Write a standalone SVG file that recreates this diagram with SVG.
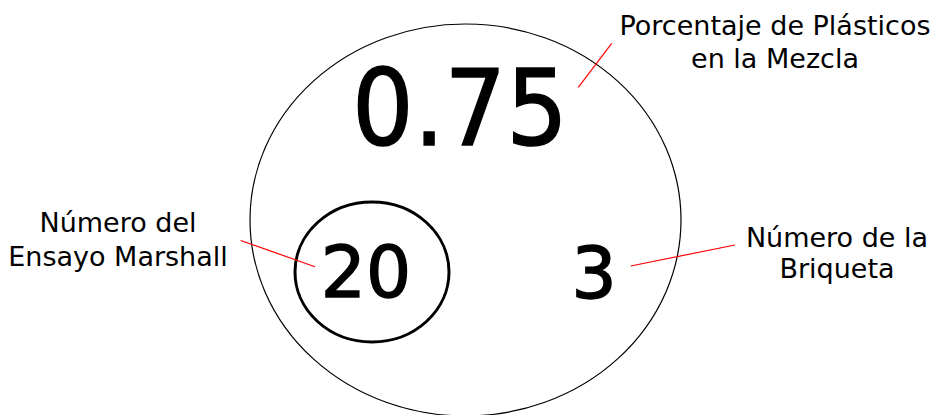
<svg xmlns="http://www.w3.org/2000/svg" width="936" height="415" viewBox="0 0 936 415">
  <style>
    .lbl { font-family: "DejaVu Sans", "Liberation Sans", sans-serif; font-size: 27px; fill: #000; text-anchor: middle; }
    .num { font-family: "DejaVu Sans", "Liberation Sans", sans-serif; fill: #000; stroke: #000; stroke-width: 1.5; text-anchor: middle; }
    .leader { stroke: #ff0000; stroke-width: 1.2; fill: none; }
  </style>
  <rect width="936" height="415" fill="#fff"/>
  <g id="outer-circle">
    <ellipse cx="465.5" cy="220" rx="215.5" ry="196" fill="none" stroke="#000" stroke-width="1.2"/>
  </g>
  <g id="porcentaje">
    <text class="num" x="460" y="145" font-size="106" textLength="216" lengthAdjust="spacingAndGlyphs">0.75</text>
  </g>
  <g id="ensayo">
    <ellipse cx="372" cy="272" rx="77" ry="70" fill="none" stroke="#000" stroke-width="3"/>
    <text class="num" x="366" y="297" font-size="71">20</text>
  </g>
  <g id="briqueta">
    <text class="num" x="594" y="298" font-size="71">3</text>
  </g>
  <g id="label-porcentaje">
    <text class="lbl" x="775" y="35">Porcentaje de Plásticos</text>
    <text class="lbl" x="775" y="68">en la Mezcla</text>
  </g>
  <g id="label-ensayo">
    <text class="lbl" x="118" y="232">Número del</text>
    <text class="lbl" x="118" y="266">Ensayo Marshall</text>
  </g>
  <g id="label-briqueta">
    <text class="lbl" x="837" y="247">Número de la</text>
    <text class="lbl" x="837" y="278">Briqueta</text>
  </g>
  <g id="connectors">
    <line class="leader" x1="611.7" y1="43.3" x2="578.3" y2="87.3"/>
    <line class="leader" x1="240.7" y1="240.5" x2="315" y2="266.7"/>
    <line class="leader" x1="735" y1="245" x2="630.7" y2="266"/>
  </g>
</svg>
